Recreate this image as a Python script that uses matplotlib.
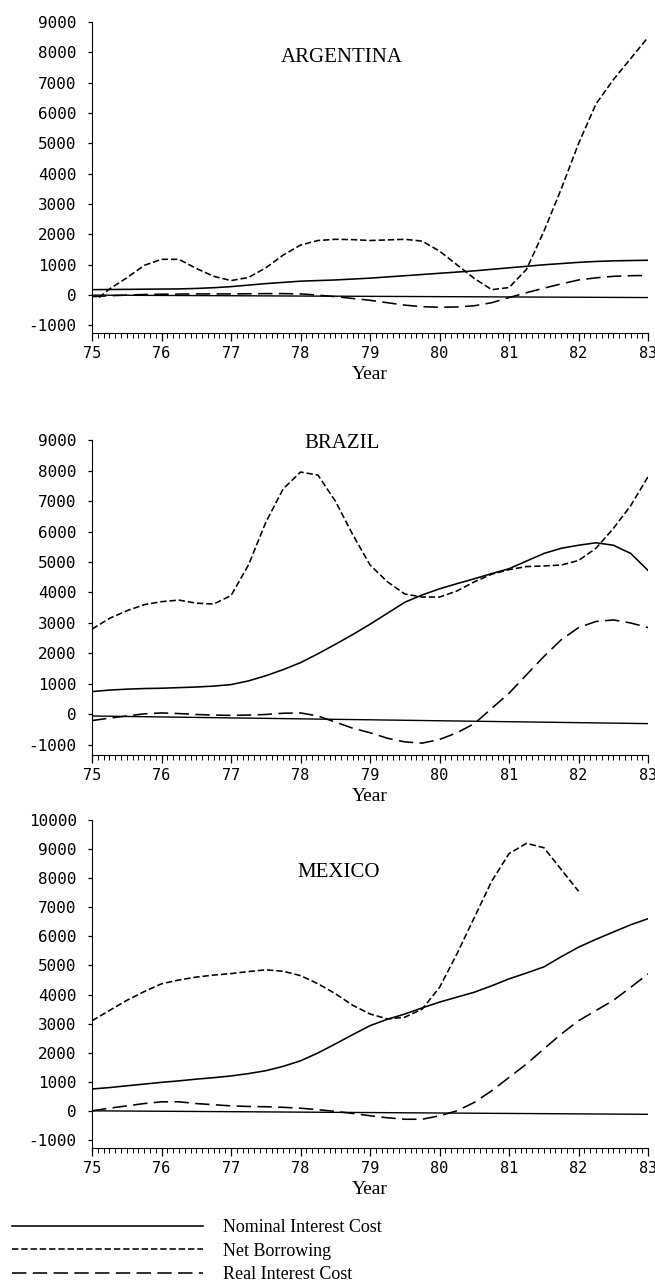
import numpy as np
import matplotlib
matplotlib.use("Agg")
import matplotlib.pyplot as plt
import matplotlib.ticker as mtick

plt.rcParams['axes.unicode_minus'] = False

# quarterly grid, 1975 .. 1983
years = np.arange(75, 83.001, 0.25)

# ---- Argentina ----
arg_nominal = [180, 185, 190, 195, 200, 205, 220, 245, 280, 330, 380, 420, 460, 480, 500, 530, 560,
               600, 640, 680, 720, 760, 800, 850, 900, 950, 1000, 1040, 1080, 1110, 1130, 1140, 1150]
arg_net_years = [75.1] + list(years[1:])
arg_net = [-80, 200, 570, 980, 1180, 1180, 880, 620, 480, 580, 900, 1320, 1650, 1800, 1840, 1830, 1800,
           1820, 1840, 1780, 1450, 1000, 550, 180, 250, 850, 2100, 3500, 5000, 6300, 7100, 7800, 8500]
arg_real = [-50, -20, 0, 20, 30, 35, 40, 40, 40, 45, 50, 50, 40, 0, -50, -110, -170,
            -250, -330, -380, -400, -390, -350, -250, -80, 80, 230, 370, 500, 570, 620, 640, 650]
arg_base = [0, -80]

# ---- Brazil ----
bra_nominal = [750, 800, 830, 850, 860, 880, 900, 930, 980, 1100, 1270, 1470, 1700, 1990, 2300, 2620, 2960,
               3320, 3680, 3920, 4120, 4290, 4450, 4620, 4780, 5030, 5280, 5450, 5550, 5630, 5550, 5280, 4720]
bra_net = [2800, 3150, 3400, 3600, 3700, 3750, 3650, 3620, 3900, 4900, 6300, 7400, 7950, 7850, 7000, 5900, 4900,
           4350, 3950, 3850, 3850, 4050, 4350, 4600, 4750, 4850, 4870, 4900, 5050, 5450, 6100, 6850, 7800]
bra_real = [-200, -120, -50, 20, 50, 30, 0, -20, -30, -20, 0, 40, 50, -50, -250, -450, -600,
            -780, -900, -940, -820, -600, -300, 200, 700, 1300, 1900, 2450, 2850, 3050, 3100, 3000, 2850]
bra_base = [-50, -300]

# ---- Mexico ----
mex_nominal = [750, 800, 860, 920, 980, 1030, 1090, 1140, 1200, 1280, 1380, 1530, 1720, 1990, 2300, 2620, 2930,
               3150, 3330, 3540, 3740, 3910, 4080, 4300, 4540, 4740, 4950, 5300, 5630, 5900, 6150, 6400, 6610]
mex_net_years = list(years[:29])
mex_net = [3100, 3450, 3800, 4100, 4370, 4500, 4600, 4670, 4720, 4790, 4850, 4800, 4650, 4370, 4030, 3630, 3330,
           3160, 3220, 3500, 4250, 5400, 6650, 7900, 8850, 9200, 9050, 8300, 7550]
mex_real = [0, 90, 170, 250, 310, 310, 250, 210, 170, 150, 140, 120, 90, 40, -20, -90, -170,
            -240, -290, -290, -170, 0, 290, 690, 1150, 1610, 2130, 2640, 3100, 3450, 3800, 4250, 4710]
mex_base = [0, -120]

base_years = [75, 83]
year_ticks = list(range(75, 84))

panels = [
    ("ARGENTINA", arg_nominal, arg_net_years, arg_net, arg_real, arg_base, list(range(-1000, 9001, 1000)),
     [0.1405, 0.740, 0.849, 0.2428], (-1250, 9000), (0.45, 0.887)),
    ("BRAZIL", bra_nominal, list(years), bra_net, bra_real, bra_base, list(range(-1000, 9001, 1000)),
     [0.1405, 0.4106, 0.849, 0.2459], (-1330, 9000), (0.45, 0.99)),
    ("MEXICO", mex_nominal, mex_net_years, mex_net, mex_real, mex_base, list(range(-1000, 10001, 1000)),
     [0.1405, 0.1038, 0.849, 0.256], (-1280, 10000), (0.444, 0.841)),
]

net_style = (0, (4, 1.8))
real_style = (0, (9, 4))
tick_font = 'DejaVu Sans Mono'
serif = 'Liberation Serif'

fig = plt.figure(figsize=(6.55, 12.81), dpi=100)

for name, nominal, net_years, net, real, base, yt, pos, ylim, title_pos in panels:
    ax = fig.add_axes(pos)
    ax.plot(years, nominal, color='black', lw=1.15, label='Nominal Interest Cost')
    ax.plot(net_years, net, color='black', lw=1.15, linestyle=net_style, label='Net Borrowing')
    ax.plot(years, real, color='black', lw=1.15, linestyle=real_style, label='Real Interest Cost')
    ax.plot(base_years, base, color='black', lw=1.0)
    ax.set_xlim(75, 83)
    ax.set_ylim(*ylim)
    ax.spines['top'].set_visible(False)
    ax.spines['right'].set_visible(False)
    ax.spines['left'].set_bounds(ylim[0], yt[-1])
    ax.set_xticks(year_ticks)
    ax.xaxis.set_minor_locator(mtick.MultipleLocator(1 / 12))
    ax.set_yticks(yt)
    ax.yaxis.set_major_formatter(mtick.FuncFormatter(lambda v, p: f"{int(v)}"))
    ax.tick_params(axis='x', which='major', length=6, width=0.9, pad=3, labelsize=11)
    ax.tick_params(axis='x', which='minor', length=3.5, width=0.7)
    ax.tick_params(axis='y', which='major', length=3, width=0.9, pad=8, labelsize=11.5)
    for lab in ax.get_xticklabels() + ax.get_yticklabels():
        lab.set_family(tick_font)
    ax.set_xlabel('Year', family=serif, fontsize=14, labelpad=4)
    ax.text(title_pos[0], title_pos[1], name, transform=ax.transAxes, ha='center', va='center',
            family=serif, fontsize=15)
    last_ax = ax

handles, labels = last_ax.get_legend_handles_labels()
fig.legend(handles, labels, loc='upper left', bbox_to_anchor=(12 / 655, 1 - 1219 / 1281), frameon=False,
           handlelength=10.6, handletextpad=1.1, labelspacing=0.36, borderpad=0, borderaxespad=0,
           prop={'family': serif, 'size': 13})

fig.savefig('out.png', dpi=100)
